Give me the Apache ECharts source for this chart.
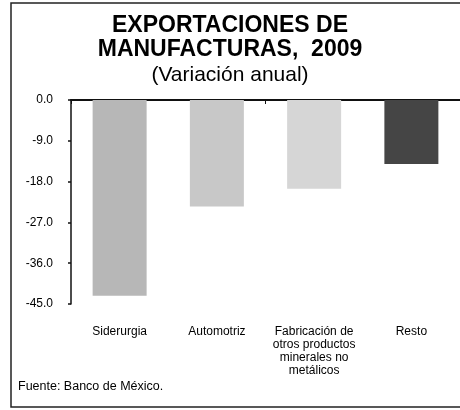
<!DOCTYPE html>
<html>
<head>
<meta charset="utf-8">
<script src="https://cdn.jsdelivr.net/npm/echarts@6/dist/echarts.min.js"></script>
<style>
  html, body { margin: 0; padding: 0; background: #fff; }
  #chart { width: 460px; height: 410px; }
</style>
</head>
<body>
<div id="chart"></div>
<script>
// datos (variacion anual, %)
const categories = ['Siderurgia', 'Automotriz', 'Fabricación de\notros productos\nminerales no\nmetálicos', 'Resto']
const values = [-43.2, -23.5, -19.6, -14.1]
const yMin = -45
const yMax = 0
const yStep = 9

const barColors = ['#b7b7b7', '#c8c8c8', '#d6d6d6', '#454545']
const font = 'Liberation Sans, Arial, sans-serif'

const chart = echarts.init(document.getElementById('chart'))

chart.setOption({
  backgroundColor: '#fff',
  animation: false,
  title: {
    left: 'center',
    top: 9,
    text: 'EXPORTACIONES DE\nMANUFACTURAS,  2009',
    subtext: '(Variación anual)',
    itemGap: 3,
    textStyle: { fontFamily: font, fontSize: 23, fontWeight: 'bold', color: '#000', lineHeight: 24 },
    subtextStyle: { fontFamily: font, fontSize: 21, color: '#000' }
  },
  grid: { left: 71, top: 100, width: 397, height: 204 },
  xAxis: [
    {
      type: 'category',
      data: categories,
      position: 'bottom',
      axisLine: { show: false },
      axisTick: { show: false },
      axisLabel: { margin: 21, fontFamily: font, fontSize: 12, lineHeight: 13, color: '#000', interval: 0 }
    },
    {
      type: 'category',
      data: categories,
      position: 'top',
      axisLine: { show: true, lineStyle: { color: '#111', width: 2 } },
      axisTick: { show: true, inside: true, length: 4, lineStyle: { color: '#111' } },
      axisLabel: { show: false }
    }
  ],
  yAxis: {
    type: 'value',
    min: yMin,
    max: yMax,
    interval: yStep,
    splitLine: { show: false },
    axisLine: { show: true, lineStyle: { color: '#111', width: 1.5 } },
    axisTick: { show: true, length: 3, lineStyle: { color: '#111', width: 1.5 } },
    axisLabel: {
      margin: 18,
      fontFamily: font,
      fontSize: 12,
      color: '#000',
      formatter: v => v.toFixed(1)
    }
  },
  graphic: [
    {
      type: 'rect',
      shape: { x: 11, y: 3, width: 480, height: 404 },
      style: { fill: 'none', stroke: '#222', lineWidth: 1.5 },
      silent: true
    },
    {
      type: 'text',
      left: 18,
      top: 380,
      style: { text: 'Fuente: Banco de México.', font: '12.5px ' + font, fill: '#000' }
    }
  ],
  series: [
    {
      type: 'bar',
      xAxisIndex: 0,
      data: values,
      barWidth: 54,
      itemStyle: { color: p => barColors[p.dataIndex] }
    }
  ]
})
</script>
</body>
</html>
